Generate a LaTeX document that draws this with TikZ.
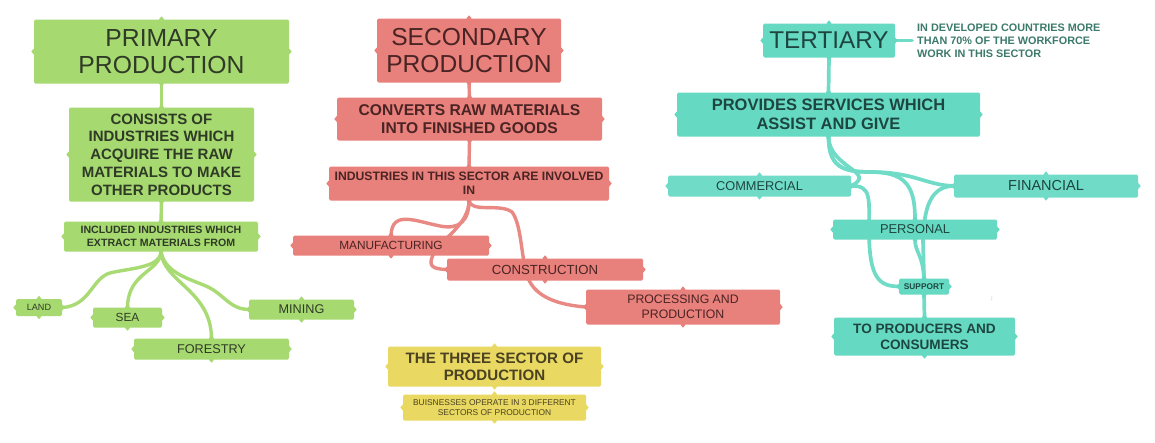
\documentclass[tikz,border=0pt]{standalone}
\usepackage{fontspec}
\setmainfont{Liberation Sans}
\usetikzlibrary{backgrounds}
\definecolor{gfill}{HTML}{A6D96F}
\definecolor{gline}{HTML}{A9DB74}
\definecolor{gtext}{HTML}{2F3B27}
\definecolor{rfill}{HTML}{E8807B}
\definecolor{rline}{HTML}{E98984}
\definecolor{rtext}{HTML}{4A2424}
\definecolor{tfill}{HTML}{66D9C2}
\definecolor{tline}{HTML}{70DCC8}
\definecolor{ttext}{HTML}{1E4640}
\definecolor{ntext}{HTML}{3C7A6B}
\definecolor{yfill}{HTML}{E9D862}
\definecolor{ytext}{HTML}{4A4222}
\newcommand{\myfs}[2]{\fontsize{#1}{#2}\selectfont}
\newcommand{\hnd}[2]{\foreach \aa in {north,south,east,west}{\fill[#2] (#1.\aa) +(0,-3) -- +(2.5,0) -- +(0,3) -- +(-2.5,0) -- cycle;}}
\begin{document}
\begin{tikzpicture}[x=1pt,y=-1pt,
  box/.style={rectangle,rounded corners=1.5pt,inner sep=0pt,align=center},
  gbox/.style={box,fill=gfill,text=gtext},
  rbox/.style={box,fill=rfill,text=rtext},
  tbox/.style={box,fill=tfill,text=ttext},
  ybox/.style={box,fill=yfill,text=ytext},
  conn/.style={line width=3.4pt,line cap=round},
  gconn/.style={conn,draw=gline},
  rconn/.style={conn,draw=rline},
  tconn/.style={conn,draw=tline,line width=3.7pt}
]
\useasboundingbox (0,0) rectangle (1155,442);

% ---------- primary ----------
\node[gbox,minimum width=255pt,minimum height=64pt,font=\myfs{24.7}{27}] (pp) at (161.5,51.5) {PRIMARY\\PRODUCTION};
\node[gbox,minimum width=185pt,minimum height=94pt,font=\myfs{15}{17.7}\bfseries] (cons) at (161.5,154.5) {CONSISTS OF\\INDUSTRIES WHICH\\ACQUIRE THE RAW\\MATERIALS TO MAKE\\OTHER PRODUCTS};
\node[gbox,minimum width=194pt,minimum height=30pt,font=\myfs{10.6}{12.7}\bfseries] (incl) at (161,236.5) {INCLUDED INDUSTRIES WHICH\\EXTRACT MATERIALS FROM};
\node[gbox,minimum width=46pt,minimum height=17pt,font=\myfs{9.1}{10}] (land) at (39,307.5) {LAND};
\node[gbox,minimum width=69pt,minimum height=20pt,font=\myfs{11.8}{13}] (sea) at (127.5,317.5) {SEA};
\node[gbox,minimum width=105pt,minimum height=20pt,font=\myfs{12.65}{14}] (mining) at (301.5,309.5) {MINING};
\node[gbox,minimum width=155pt,minimum height=21pt,font=\myfs{12.7}{14}] (forestry) at (211.5,349) {FORESTRY};

% ---------- secondary ----------
\node[rbox,minimum width=184pt,minimum height=64pt,font=\myfs{24.6}{27}] (sp) at (469,50.5) {SECONDARY\\PRODUCTION};
\node[rbox,minimum width=265pt,minimum height=43pt,font=\myfs{15.6}{18.3}\bfseries] (conv) at (469.5,119) {CONVERTS RAW MATERIALS\\INTO FINISHED GOODS};
\node[rbox,minimum width=280pt,minimum height=34pt,font=\myfs{12.2}{14}\bfseries] (ind) at (469,183.5) {INDUSTRIES IN THIS SECTOR ARE INVOLVED\\IN};
\node[rbox,minimum width=196pt,minimum height=20pt,font=\myfs{11.85}{13}] (manu) at (391,245.5) {MANUFACTURING};
\node[rbox,minimum width=196pt,minimum height=22pt,font=\myfs{13.2}{14}] (constr) at (545,269.5) {CONSTRUCTION};
\node[rbox,minimum width=194pt,minimum height=35pt,font=\myfs{12.3}{15}] (proc) at (683,307) {PROCESSING AND\\PRODUCTION};

% ---------- tertiary ----------
\node[tbox,minimum width=132pt,minimum height=34pt,font=\myfs{24.3}{27}] (ter) at (829,40.5) {TERTIARY};
\node[inner sep=0pt,align=left,anchor=west,text=ntext,font=\myfs{10.85}{13}\bfseries] (note) at (917,40.5) {IN DEVELOPED COUNTRIES MORE\\THAN 70\% OF THE WORKFORCE\\WORK IN THIS SECTOR};
\node[tbox,minimum width=303pt,minimum height=44pt,font=\myfs{16.5}{18.7}\bfseries] (prov) at (828.5,114.5) {PROVIDES SERVICES WHICH\\ASSIST AND GIVE};
\node[tbox,fill=tline,minimum width=183pt,minimum height=21pt,font=\myfs{12.8}{14}] (comm) at (759.5,186) {COMMERCIAL};
\node[tbox,fill=tline,minimum width=184pt,minimum height=23pt,font=\myfs{14.5}{16}] (fin) at (1046,186) {FINANCIAL};
\node[tbox,minimum width=164pt,minimum height=20pt,font=\myfs{12.85}{14}] (pers) at (915,229.5) {PERSONAL};
\node[tbox,minimum width=50pt,minimum height=16pt,font=\myfs{8.3}{9}\bfseries] (supp) at (924,286.5) {SUPPORT};
\node[tbox,minimum width=181pt,minimum height=38pt,font=\myfs{13.6}{16}\bfseries] (tpc) at (924.5,336.5) {TO PRODUCERS AND\\CONSUMERS};
\node[inner sep=0pt,text=ntext,font=\myfs{6}{6}] (colon) at (992,299) {:};

% ---------- yellow ----------
\node[ybox,minimum width=213pt,minimum height=40pt,font=\myfs{15.1}{17.3}\bfseries] (three) at (494.5,366.5) {THE THREE SECTOR OF\\PRODUCTION};
\node[ybox,minimum width=183pt,minimum height=26pt,font=\myfs{8.4}{9.3}] (buis) at (494.5,407.5) {BUISNESSES OPERATE IN 3 DIFFERENT\\SECTORS OF PRODUCTION};

% ---------- handles ----------
\foreach \n in {pp,cons,incl,land,sea,mining,forestry}{\hnd{\n}{gfill}}
\foreach \n in {sp,conv,ind,manu,constr,proc}{\hnd{\n}{rfill}}
\foreach \n in {ter,prov,pers,supp,tpc}{\hnd{\n}{tfill}}
\foreach \n in {comm,fin}{\hnd{\n}{tline}}
\foreach \n in {three,buis}{\hnd{\n}{yfill}}

% ---------- connectors ----------
\begin{scope}[on background layer]
\fill[white] (0,0) rectangle (1155,442);
\draw[gconn] (pp.south) -- (cons.north);
\draw[gconn] (cons.south) -- (incl.north);
\draw[gconn] (incl.south) .. controls (160,268) and (130,268) .. (110,273) .. controls (92,278) and (90,306) .. (land.east);
\draw[gconn] (incl.south) .. controls (160,272) and (128,272) .. (sea.north);
\draw[gconn] (incl.south) .. controls (163,282) and (211,290) .. (forestry.north);
\draw[gconn] (incl.south) .. controls (165,275) and (195,280) .. (210,288) .. controls (225,296) and (230,309) .. (mining.west);

\draw[rconn] (sp.south) -- (conv.north);
\draw[rconn] (conv.south) -- (ind.north);
\draw[rconn] (ind.south) .. controls (469,220) and (460,230) .. (440,226) .. controls (415,221) and (392,210) .. (manu.north);
\draw[rconn] (ind.south) .. controls (469,225) and (440,240) .. (433,255) .. controls (428,266) and (432,269) .. (constr.west);
\draw[rconn] (ind.south) .. controls (471,213) and (500,203) .. (512,212) .. controls (522,225) and (521,260) .. (528,278) .. controls (536,298) and (560,305) .. (proc.west);

\draw[tconn] (ter.south) -- (prov.north);
\draw[tconn] (ter.east) -- ([xshift=-5pt]note.west);
\draw[tconn] (prov.south) .. controls (829,168) and (878,172) .. (comm.east);
\draw[tconn] (prov.south) .. controls (829,165) and (840,172) .. (870,172) .. controls (915,172) and (925,185) .. (fin.west);
\draw[tconn] (prov.south) .. controls (829,165) and (840,172) .. (870,172) .. controls (905,172) and (915,185) .. (pers.north);
\draw[tconn] (comm.east) .. controls (872,185) and (869,200) .. (869,230) .. controls (869,280) and (880,286) .. (supp.west);
\draw[tconn] (fin.west) .. controls (932,186) and (924,205) .. (923,240) -- (supp.north);
\draw[tconn] (pers.south) .. controls (915,252) and (923,255) .. (supp.north);
\draw[tconn] (supp.south) -- (tpc.north);
\end{scope}
\end{tikzpicture}
\end{document}
